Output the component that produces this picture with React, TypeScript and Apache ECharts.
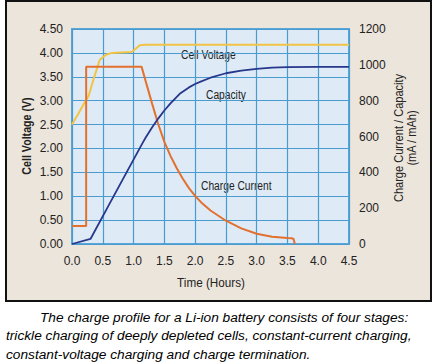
import React, { useEffect, useRef } from "react";
import * as echarts from "echarts";

// ---- data ----
const voltageT = [0, 0.1, 0.2, 0.27, 0.35, 0.45, 0.55, 0.65, 0.8, 0.97, 1.03, 1.1, 1.2, 4.5];
const voltageV = [2.5, 2.72, 2.95, 3.1, 3.45, 3.85, 3.96, 4.0, 4.01, 4.02, 4.08, 4.16, 4.17, 4.17];

const currentT = [0, 0.23, 0.23, 1.13, 1.2, 1.3, 1.4, 1.5, 1.6, 1.7, 1.8, 1.9, 2.0, 2.1, 2.25, 2.5, 2.75, 3.0, 3.25, 3.5, 3.57, 3.6, 3.62];
const currentV = [100, 100, 990, 990, 905, 785, 670, 570, 492, 424, 364, 312, 268, 232, 187, 130, 87, 57, 41, 33, 32, 28, 0];

const capacityT = [0, 0.3, 0.6, 0.9, 1.15, 1.2, 1.3, 1.4, 1.5, 1.6, 1.75, 1.9, 2.0, 2.1, 2.25, 2.5, 2.75, 3.0, 3.25, 3.5, 4.0, 4.5];
const capacityV = [0, 28, 218, 408, 566, 596, 650, 700, 745, 785, 838, 874, 893, 908, 928, 953, 968, 978, 984, 987, 989, 989];

const seriesLabels = ["Cell Voltage", "Capacity", "Charge Current"];
const captionLines = [
  "The charge profile for a Li-ion battery consists of four stages:",
  "trickle charging of deeply depleted cells, constant-current charging,",
  "constant-voltage charging and charge termination.",
];

const SANS = "'Liberation Sans', Arial, sans-serif";

export default function App() {
  const ref = useRef<HTMLDivElement>(null);
  useEffect(() => {
    const chart = echarts.init(ref.current!, null, { renderer: "svg" });
    const zip = (t: number[], v: number[]) => t.map((x, i) => [x, v[i]]);
    const narrowText = (text: string, x: number, y: number, font: string, opts: any = {}) => ({
      type: "text", x, y, scaleX: opts.scaleX ?? 0.85, rotation: opts.rotation ?? 0,
      style: { text, align: opts.align ?? "left", verticalAlign: "middle", fill: "#222", font },
    });
    chart.setOption({
      animation: false,
      backgroundColor: "#ffffff",
      grid: {
        left: 72, right: 86, top: 29, bottom: 120,
        show: true, backgroundColor: "#deeaf6", borderColor: "#5aa6d6", borderWidth: 2,
      },
      xAxis: {
        type: "value", min: 0, max: 4.5, interval: 0.5,
        axisLine: { show: false }, axisTick: { show: false },
        splitLine: { show: true, lineStyle: { color: "#4a9bcf", width: 1.2 } },
        axisLabel: { formatter: (v: number) => v.toFixed(1), color: "#222", fontFamily: SANS, fontSize: 12, margin: 11 },
      },
      yAxis: [
        {
          type: "value", min: 0, max: 4.5, interval: 0.5,
          axisLine: { show: false }, axisTick: { show: false },
          splitLine: { show: true, lineStyle: { color: "#4a9bcf", width: 1.2 } },
          axisLabel: { formatter: (v: number) => v.toFixed(2), color: "#222", fontFamily: SANS, fontSize: 12, margin: 9 },
        },
        {
          type: "value", min: 0, max: 1200, interval: 200, position: "right",
          axisLine: { show: false }, axisTick: { show: false }, splitLine: { show: false },
          axisLabel: { formatter: (v: number) => String(v), color: "#222", fontFamily: SANS, fontSize: 12, margin: 10 },
        },
      ],
      series: [
        {
          type: "line", yAxisIndex: 0, data: zip(voltageT, voltageV), showSymbol: false,
          lineStyle: { color: "#f2c446", width: 2 }, z: 3,
        },
        {
          type: "line", yAxisIndex: 1, data: zip(currentT, currentV), showSymbol: false,
          lineStyle: { color: "#e2712f", width: 2 }, z: 4,
        },
        {
          type: "line", yAxisIndex: 1, data: zip(capacityT, capacityV), showSymbol: false,
          lineStyle: { color: "#27378c", width: 1.8 }, z: 5,
        },
      ],
      graphic: [
        {
          type: "rect", z: -10, silent: true,
          shape: { x: 6, y: 1, width: 425, height: 300 },
          style: { fill: "#ece5db", stroke: "#111", lineWidth: 2 },
        },
        narrowText("Cell Voltage (V)", 27, 136, `bold 13px ${SANS}`, { rotation: Math.PI / 2, align: "center", scaleX: 0.82 }),
        narrowText("Charge Current / Capacity", 399, 138, `13px ${SANS}`, { rotation: Math.PI / 2, align: "center", scaleX: 0.85 }),
        narrowText("(mA / mAh)", 412, 138, `13px ${SANS}`, { rotation: Math.PI / 2, align: "center", scaleX: 0.85 }),
        narrowText("Time (Hours)", 211, 283, `13px ${SANS}`, { align: "center", scaleX: 0.9 }),
        narrowText(seriesLabels[0], 181, 55, `12.5px ${SANS}`, { scaleX: 0.82 }),
        narrowText(seriesLabels[1], 206, 95, `12.5px ${SANS}`, { scaleX: 0.82 }),
        narrowText(seriesLabels[2], 201, 186, `12.5px ${SANS}`, { scaleX: 0.82 }),
        {
          type: "text", x: 40, y: 317,
          style: { text: captionLines[0], align: "left", verticalAlign: "middle", fill: "#000", font: `italic 13.7px ${SANS}` },
        },
        {
          type: "text", x: 6, y: 335,
          style: { text: captionLines[1], align: "left", verticalAlign: "middle", fill: "#000", font: `italic 13.7px ${SANS}` },
        },
        {
          type: "text", x: 6, y: 354,
          style: { text: captionLines[2], align: "left", verticalAlign: "middle", fill: "#000", font: `italic 13.7px ${SANS}` },
        },
      ],
    });
    return () => chart.dispose();
  }, []);
  return (
    <div style={{ position: "fixed", left: 0, top: 0, width: 435, height: 364, background: "#fff" }}>
      <div ref={ref} style={{ width: 435, height: 364 }} />
    </div>
  );
}
